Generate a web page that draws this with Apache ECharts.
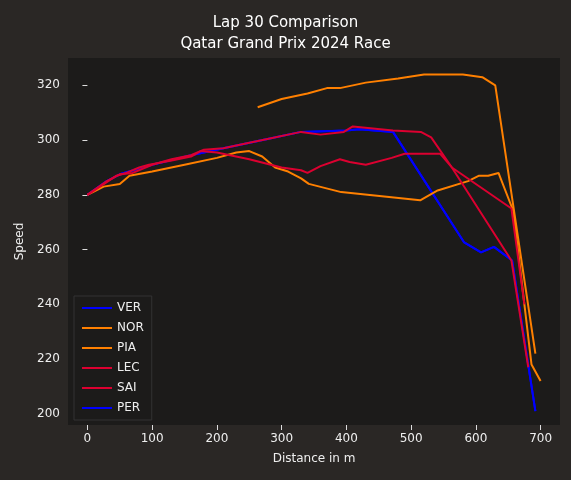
<!DOCTYPE html><html><head><meta charset="utf-8"><script src="https://cdn.jsdelivr.net/npm/echarts@6/dist/echarts.min.js"></script>
<style>body{margin:0;background:#2a2725}#c{width:571px;height:480px}</style></head><body><div id="c"></div><script>
const VER=[[0,280],[30,285],[50,287.5],[100,291],[160,294.5],[210,297],[280,300.5],[330,303],[400,303.5],[420,304],[472,303],[582,262.6],[608,259],[628,261],[656,256],[692,201]];
const NOR=[[263,312],[300,315],[340,317],[370,319],[390,319],[430,321],[480,322.5],[520,324],[580,324],[610,323],[630,320],[692,222]];
const PIA=[[0,280],[25,283],[50,284],[65,287],[100,288.5],[150,291],[200,293.5],[230,295.5],[250,296],[270,294],[290,290],[310,288.5],[330,286],[342,284],[392,281],[514,278],[541,281.6],[588,285],[605,287],[619,287],[635,288],[658,274],[686,218],[700,212]];
const LEC=[[0,280],[30,285],[50,287.5],[70,288],[100,291],[130,293],[160,294.5],[180,296.5],[210,297],[250,299],[280,300.5],[330,303],[360,302],[396,303],[410,305],[472,303.5],[515,303],[531,301],[563,290],[655,256],[681,217]];
const SAI=[[0,280],[45,287],[60,288],[80,290],[95,291],[130,292.5],[160,294],[175,296],[200,295.5],[250,293],[300,290],[330,289],[340,288],[360,290.5],[390,293],[405,292],[430,291],[470,293.5],[490,295],[545,295],[563,290],[655,275],[675,240]];
const PER=VER;
const names=['VER','NOR','PIA','LEC','SAI','PER'];
const datas=[VER,NOR,PIA,LEC,SAI,PER];
const colors=['#0000ff','#ff8000','#ff8000','#dc0030','#dc0030','#0000ff'];
const zs=[1,3,3,4,4,1];
const ch=echarts.init(document.getElementById('c'));
const lab={color:'#eee',fontSize:12,fontFamily:'DejaVu Sans'};
ch.setOption({backgroundColor:'#2a2725',animation:false,
title:{text:'Lap 30 Comparison\nQatar Grand Prix 2024 Race',left:'center',top:8,textStyle:{color:'#fff',fontSize:15,fontWeight:'normal',fontFamily:'DejaVu Sans',lineHeight:21,align:'center'}},
grid:{left:68,right:11,top:58,bottom:55,backgroundColor:'#1c1b1a',show:true,borderWidth:0},
xAxis:{type:'value',min:-30,max:730,name:'Distance in m',nameLocation:'middle',nameGap:28,nameTextStyle:lab,axisLine:{show:false},splitLine:{show:false},axisLabel:Object.assign({customValues:[0,100,200,300,400,500,600,700]},lab),axisTick:{show:true,customValues:[0,100,200,300,400,500,600,700],lineStyle:{color:'#ddd'}}},
yAxis:{type:'value',min:195.9,max:330,name:'Speed',nameLocation:'middle',nameGap:40,nameTextStyle:lab,axisLine:{show:false},splitLine:{show:false},axisLabel:Object.assign({customValues:[200,220,240,260,280,300,320]},lab),axisTick:{show:true,customValues:[200,220,240,260,280,300,320],lineStyle:{color:'#ddd'}}},
legend:{orient:'vertical',left:74,bottom:60,itemWidth:30,itemHeight:2,itemGap:8,textStyle:lab,backgroundColor:'#1c1b1a',borderColor:'#333',borderWidth:1,padding:[6,8],data:names.map((n,i)=>({name:n,icon:'rect',itemStyle:{color:colors[i]}}))},
series:datas.map((d,i)=>({name:names[i],type:'line',data:d,z:zs[i],showSymbol:false,color:colors[i],lineStyle:{width:2,color:colors[i]}}))});
</script></body></html>
